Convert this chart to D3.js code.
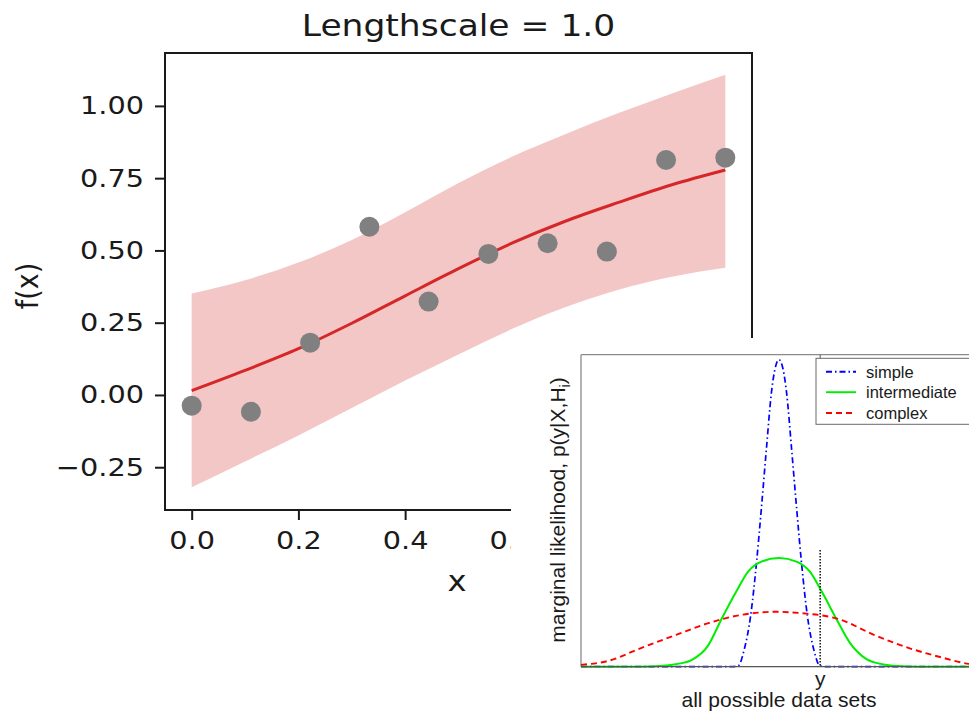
<!DOCTYPE html>
<html>
<head>
<meta charset="utf-8">
<script src="https://cdn.jsdelivr.net/npm/d3@7"></script>
<style>
  html, body { margin: 0; padding: 0; background: #fff; }
  svg { display: block; }
</style>
</head>
<body>
<svg id="fig" width="969" height="712"></svg>
<script>
// ---- GP regression panel ----
const obsX = [0, 0.111, 0.222, 0.333, 0.444, 0.556, 0.667, 0.778, 0.889, 1.0];
const obsY = [-0.037, -0.058, 0.181, 0.582, 0.323, 0.488, 0.525, 0.496, 0.813, 0.821];

const gridX = [0, 0.1, 0.2, 0.3, 0.4, 0.5, 0.6, 0.7, 0.8, 0.9, 1.0];
const postMean  = [0.015, 0.085, 0.160, 0.248, 0.343, 0.437, 0.525, 0.601, 0.666, 0.727, 0.778];
const postUpper = [0.351, 0.397, 0.458, 0.536, 0.632, 0.733, 0.824, 0.902, 0.975, 1.043, 1.108];
const postLower = [-0.319, -0.230, -0.140, -0.045, 0.050, 0.140, 0.228, 0.303, 0.364, 0.409, 0.440];

const yTicks = [-0.25, 0, 0.25, 0.5, 0.75, 1.0];
const xTicks = [0, 0.2, 0.4, 0.6, 0.8, 1.0];

// ---- marginal likelihood panel ----
const simpleX = [0, 38, 39.7, 41.2, 42.8, 44.3, 45.5, 46.8, 48.1, 49.0, 50, 51.0, 51.9, 53.2, 54.5, 55.7, 57.2, 58.8, 60.3, 62, 100];
const simpleY = [0, 0, 0.003, 0.054, 0.160, 0.331, 0.50, 0.695, 0.880, 0.955, 0.984, 0.955, 0.880, 0.695, 0.50, 0.331, 0.160, 0.054, 0.003, 0, 0];

const interX = [0, 15, 20, 24, 28, 32, 35.5, 39, 42.2, 45.6, 50, 54.4, 57.8, 61, 64.5, 68, 72, 76, 80, 85, 100];
const interY = [0, 0, 0.002, 0.008, 0.022, 0.066, 0.153, 0.236, 0.305, 0.337, 0.348, 0.337, 0.305, 0.236, 0.153, 0.075, 0.025, 0.008, 0.002, 0, 0];

const complexX = [0, 7, 15, 24, 32, 40.5, 49, 57, 60.5, 65, 74, 83, 91, 98, 100];
const complexY = [0.006, 0.019, 0.059, 0.102, 0.139, 0.166, 0.176, 0.170, 0.165, 0.153, 0.102, 0.059, 0.030, 0.009, 0.006];

const observedY = 60.4;      // position of the observed data set
const observedTop = 0.374;   // height of the marker line

const legendNames = ["simple", "intermediate", "complex"];

const svg = d3.select("#fig");
const MAIN_FONT = "'DejaVu Sans', sans-serif";
const INSET_FONT = "'Liberation Sans', Arial, sans-serif";
const WIDE = "scale(1.15,1)";   // the GP panel's lettering is set slightly wide

// ===== GP panel =====
const x = d3.scaleLinear().domain([-0.05, 1.05]).range([165, 752]);
const y = d3.scaleLinear().domain([-0.398, 1.183]).range([510, 53]);

const main = svg.append("g");

const band = gridX.map((gx, i) => ({x: gx, lo: postLower[i], hi: postUpper[i], m: postMean[i]}));

main.append("path")
  .datum(band)
  .attr("fill", "#d62728")
  .attr("fill-opacity", 0.26)
  .attr("d", d3.area().curve(d3.curveMonotoneX)
    .x(d => x(d.x)).y0(d => y(d.lo)).y1(d => y(d.hi)));

main.append("path")
  .datum(band)
  .attr("fill", "none")
  .attr("stroke", "#d62728")
  .attr("stroke-width", 3)
  .attr("d", d3.line().curve(d3.curveMonotoneX).x(d => x(d.x)).y(d => y(d.m)));

main.selectAll("circle.obs")
  .data(obsX.map((v, i) => [v, obsY[i]]))
  .join("circle")
  .attr("class", "obs")
  .attr("cx", d => x(d[0]))
  .attr("cy", d => y(d[1]))
  .attr("r", 10)
  .attr("fill", "#808080");

// axes
const fmtY = d3.format(".2f");
const fmtX = d3.format(".1f");

const gy = main.append("g").attr("transform", "translate(165,0)")
  .call(d3.axisLeft(y).tickValues(yTicks).tickFormat(fmtY).tickSize(10).tickPadding(11));
const gx = main.append("g").attr("transform", "translate(0,510)")
  .call(d3.axisBottom(x).tickValues(xTicks).tickFormat(fmtX).tickSize(10).tickPadding(11));

[gy, gx].forEach(g => {
  g.select(".domain").remove();
  g.selectAll(".tick line").attr("stroke", "#1a1a1a").attr("stroke-width", 2);
  g.selectAll(".tick text").attr("fill", "#1a1a1a")
    .style("font-family", MAIN_FONT).style("font-size", "25px");
});
gy.selectAll(".tick text").each(function () {
  const t = d3.select(this);
  const tx = +t.attr("x");
  t.attr("x", 0).attr("transform", `translate(${tx},0) ${WIDE}`);
});
gx.selectAll(".tick text").each(function () {
  const t = d3.select(this);
  const ty = +t.attr("y");
  t.attr("y", 0).attr("transform", `translate(0,${ty}) ${WIDE}`);
});

// spines
main.append("rect")
  .attr("x", 165).attr("y", 53).attr("width", 587).attr("height", 457)
  .attr("fill", "none").attr("stroke", "#1a1a1a").attr("stroke-width", 2);

main.append("text")
  .attr("transform", `translate(458.5,36) ${WIDE}`)
  .attr("text-anchor", "middle")
  .style("font-family", MAIN_FONT).style("font-size", "30px")
  .attr("fill", "#1a1a1a")
  .text("Lengthscale = 1.0");

main.append("text")
  .attr("transform", `translate(457,591) ${WIDE}`)
  .attr("text-anchor", "middle")
  .style("font-family", MAIN_FONT).style("font-size", "28px")
  .attr("fill", "#1a1a1a")
  .text("x");

main.append("text")
  .attr("transform", "translate(38,286) rotate(-90) scale(1,1.1)")
  .attr("text-anchor", "middle")
  .style("font-family", MAIN_FONT).style("font-size", "27px")
  .attr("fill", "#1a1a1a")
  .text("f(x)");

// ===== marginal likelihood panel =====
const inset = svg.append("g");
inset.append("rect")
  .attr("x", 511).attr("y", 338).attr("width", 470).attr("height", 380)
  .attr("fill", "#fff");

const xi = d3.scaleLinear().domain([0, 100]).range([581, 977]);
const yi = d3.scaleLinear().domain([0, 1]).range([666.7, 354.7]);

// frame
inset.append("line")
  .attr("x1", xi(0)).attr("x2", xi(100)).attr("y1", yi(1)).attr("y2", yi(1))
  .attr("stroke", "#8a8a8a").attr("stroke-width", 1.2);
inset.append("line")
  .attr("x1", xi(0)).attr("x2", xi(0)).attr("y1", yi(1)).attr("y2", yi(0))
  .attr("stroke", "#9a9a9a").attr("stroke-width", 1.5);

const lineI = d3.line().curve(d3.curveMonotoneX).x(d => xi(d[0])).y(d => yi(d[1]));
const zip = (a, b) => a.map((v, i) => [v, b[i]]);

inset.append("path").datum(zip(simpleX, simpleY))
  .attr("fill", "none").attr("stroke", "#0000ff").attr("stroke-width", 1.7)
  .attr("stroke-dasharray", "6,3,1.5,3").attr("d", lineI);
inset.append("path").datum(zip(interX, interY))
  .attr("fill", "none").attr("stroke", "#00ee00").attr("stroke-width", 2)
  .attr("d", lineI);
inset.append("path").datum(zip(complexX, complexY))
  .attr("fill", "none").attr("stroke", "#ff0000").attr("stroke-width", 1.9)
  .attr("stroke-dasharray", "6,4").attr("d", lineI);

// bottom axis
inset.append("line")
  .attr("x1", xi(0)).attr("x2", xi(100)).attr("y1", yi(0)).attr("y2", yi(0))
  .attr("stroke", "#555").attr("stroke-width", 1.2);

// observed data set marker
inset.append("line")
  .attr("x1", xi(observedY)).attr("x2", xi(observedY))
  .attr("y1", yi(observedTop)).attr("y2", yi(0))
  .attr("stroke", "#222").attr("stroke-width", 1.6)
  .attr("stroke-dasharray", "1.5,1.5");
inset.append("line")
  .attr("x1", xi(observedY)).attr("x2", xi(observedY))
  .attr("y1", yi(1)).attr("y2", yi(1) + 4)
  .attr("stroke", "#555").attr("stroke-width", 1);

inset.append("text")
  .attr("x", xi(observedY)).attr("y", 685.5)
  .attr("text-anchor", "middle")
  .style("font-family", INSET_FONT).style("font-size", "21px")
  .attr("fill", "#1a1a1a")
  .text("y");

inset.append("text")
  .attr("x", xi(50)).attr("y", 707)
  .attr("text-anchor", "middle")
  .style("font-family", INSET_FONT).style("font-size", "21px")
  .attr("fill", "#1a1a1a")
  .text("all possible data sets");

const yl = inset.append("text")
  .attr("transform", "translate(565,510) rotate(-90)")
  .attr("text-anchor", "middle")
  .style("font-family", INSET_FONT).style("font-size", "21px")
  .attr("fill", "#1a1a1a");
yl.append("tspan").text("marginal likelihood, p(y|X,H");
yl.append("tspan").attr("dy", 5).style("font-size", "14px").text("i");
yl.append("tspan").attr("dy", -5).text(")");

// legend
const leg = inset.append("g");
leg.append("rect")
  .attr("x", 816).attr("y", 358.3).attr("width", 170).attr("height", 66)
  .attr("fill", "#fff").attr("stroke", "#6a6a6a").attr("stroke-width", 1);
const legStyles = [
  {c: "#0000ff", dash: "6,3,1.5,3"},
  {c: "#00ee00", dash: null},
  {c: "#ff0000", dash: "6,4"}
];
const rowY = [371.7, 392.2, 413.0];
legendNames.forEach((name, i) => {
  leg.append("line")
    .attr("x1", 826).attr("x2", 856).attr("y1", rowY[i]).attr("y2", rowY[i])
    .attr("stroke", legStyles[i].c).attr("stroke-width", 1.9)
    .attr("stroke-dasharray", legStyles[i].dash);
  leg.append("text")
    .attr("x", 866).attr("y", rowY[i] + 6)
    .style("font-family", INSET_FONT).style("font-size", "16.5px")
    .attr("fill", "#1a1a1a")
    .text(name);
});
</script>
</body>
</html>
